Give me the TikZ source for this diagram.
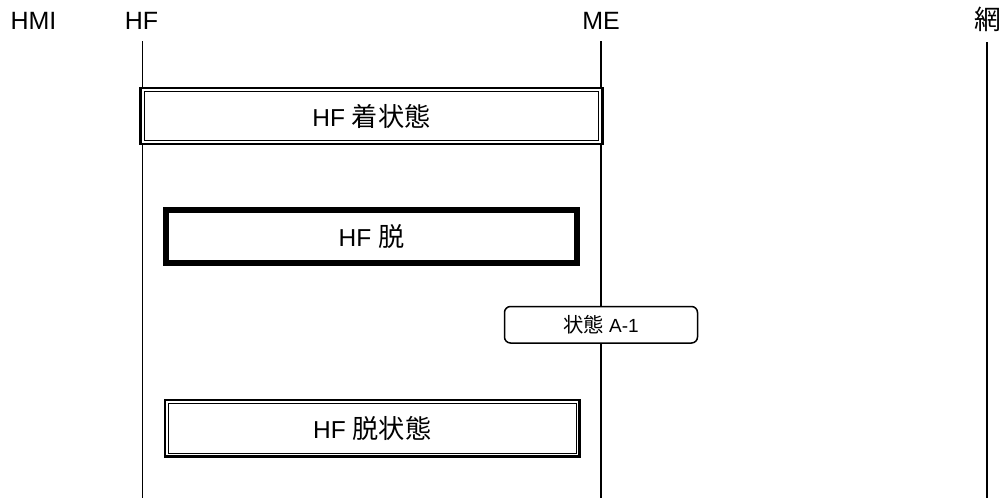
\documentclass[tikz,border=0pt]{standalone}
\usepackage{fontspec}
\setmainfont{Liberation Sans}
\newfontfamily\cjk[Scale=1.07]{Noto Sans CJK JP}
\begin{document}
\begin{tikzpicture}[x=1pt,y=-1pt,
  lbl/.style={font=\fontsize{25}{30}\selectfont, inner sep=0pt, anchor=base},
  lifeline/.style={line width=1.4pt},
  boxtext/.style={font=\fontsize{24.5}{28}\selectfont, inner sep=0pt, outer sep=0pt, fill=white},
  dblbox/.style={boxtext, draw, line width=2.4pt},
  thickbox/.style={boxtext, draw, line width=6pt},
  roundbox/.style={draw, fill=white, rounded corners=6pt, line width=1.5pt, inner sep=0pt, outer sep=0pt, font=\fontsize{19}{23}\selectfont}
]
\useasboundingbox (0,0) rectangle (1003,498);
% header labels
\node[lbl] (hmi) at (33.5,29.5) {HMI};
\node[lbl] (hf) at (141.5,29.5) {HF};
\node[lbl] (me) at (601,29.5) {ME};
\node[lbl] (net) at (987.5,29.5) {\cjk 網};
% lifelines
\coordinate (hfTop) at (142.5,41);
\coordinate (hfBot) at (142.5,498);
\coordinate (meTop) at (601,41);
\coordinate (meBot) at (601,498);
\coordinate (netTop) at (987,42);
\coordinate (netBot) at (987,498);
\draw[lifeline] (hfTop) -- (hfBot);
\draw[lifeline] (meTop) -- (meBot);
\draw[lifeline] (netTop) -- (netBot);
% state boxes
\node[dblbox, minimum width=462pt, minimum height=56pt] (s1) at (371.5,116) {HF {\cjk 着状態}};
\draw[line width=1.1pt] ([xshift=3.7pt,yshift=-3.7pt]s1.north west) rectangle ([xshift=-3.7pt,yshift=3.7pt]s1.south east);
\node[thickbox, minimum width=411pt, minimum height=53pt] (s2) at (371.5,236.5) {HF {\cjk 脱}};
\node[roundbox, minimum width=193pt, minimum height=36.5pt] (s3) at (601,324.75) {{\cjk 状態} A-1};
\node[dblbox, minimum width=414.5pt, minimum height=56.5pt] (s4) at (372.25,428.25) {HF {\cjk 脱状態}};
\draw[line width=1.1pt] ([xshift=3.4pt,yshift=-3.4pt]s4.north west) rectangle ([xshift=-3.4pt,yshift=3.4pt]s4.south east);
\end{tikzpicture}
\end{document}
